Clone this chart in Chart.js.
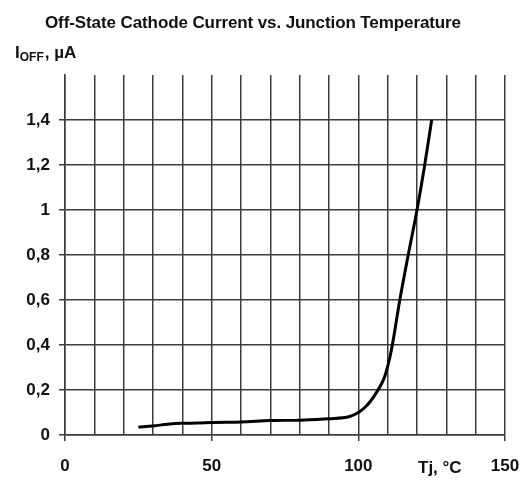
<!DOCTYPE html>
<html>
<head>
<meta charset="utf-8">
<script src="https://cdn.jsdelivr.net/npm/chart.js@4/dist/chart.umd.min.js"></script>
<style>
  body { margin: 0; background: #fff; }
  #wrap { position: relative; width: 523px; height: 486px; }
  .lbl { position: absolute; font-family: Arial, "Liberation Sans", sans-serif; font-weight: bold; color: #111; white-space: nowrap; }
  #title { left: 45px; top: 13px; font-size: 17px; letter-spacing: -0.1px; }
  #ylab { left: 15px; top: 43px; font-size: 17px; }
  #ylab sub { font-size: 12px; vertical-align: -3px; margin-right: 1px; }
  #xlab { left: 418px; top: 458px; font-size: 17px; }
</style>
</head>
<body>
<div id="wrap">
  <canvas id="chart" width="523" height="486"></canvas>
  <div class="lbl" id="title">Off-State Cathode Current vs. Junction Temperature</div>
  <div class="lbl" id="ylab">I<sub>OFF</sub>, µA</div>
  <div class="lbl" id="xlab">Tj, °C</div>
</div>
<script>
// junction temperature, °C
const tempC = [25, 30, 35, 40, 45, 50, 60, 70, 80, 90, 97, 100, 102, 104, 106, 108, 109, 110, 111, 112, 113, 114, 117, 120, 122.5, 125];
// off-state cathode current, µA
const ioffUA = [0.035, 0.04, 0.048, 0.052, 0.053, 0.056, 0.058, 0.064, 0.066, 0.072, 0.082, 0.1, 0.12, 0.148, 0.185, 0.23, 0.26, 0.305, 0.36, 0.43, 0.51, 0.59, 0.8, 1.0, 1.19, 1.4];

const xLabelTicks = [0, 50, 100, 150];

const gridCol = "#3c3c3c";
const tickFont = { family: "Arial, 'Liberation Sans', sans-serif", size: 17, weight: "bold" };

const points = tempC.map((t, i) => ({ x: t, y: ioffUA[i] }));

new Chart(document.getElementById("chart"), {
  type: "line",
  data: {
    datasets: [{
      data: points,
      borderColor: "#000",
      borderWidth: 3,
      pointRadius: 0,
      cubicInterpolationMode: "monotone",
      fill: false,
    }],
  },
  options: {
    responsive: false,
    animation: false,
    layout: { padding: { top: 75, right: 18, left: 0, bottom: 0 } },
    plugins: { legend: { display: false }, title: { display: false }, tooltip: { enabled: false } },
    scales: {
      x: {
        type: "linear",
        min: 0,
        max: 150,
        afterFit: (s) => { s.height = 51; s.paddingLeft = 0; s.paddingRight = 0; },
        border: { display: true, color: gridCol, width: 1.5 },
        grid: {
          color: gridCol,
          lineWidth: 1.5,
          tickLength: 6,
          tickColor: (c) => xLabelTicks.includes(c.tick && c.tick.value) ? gridCol : "rgba(0,0,0,0)",
        },
        ticks: {
          stepSize: 10,
          autoSkip: false,
          maxRotation: 0,
          padding: 15,
          color: "#111",
          font: tickFont,
          callback: (v) => xLabelTicks.includes(v) ? String(v) : "",
        },
      },
      y: {
        min: 0,
        max: 1.6,
        afterFit: (s) => { s.width = 65; s.paddingTop = 0; s.paddingBottom = 0; },
        border: { display: true, color: gridCol, width: 1.5 },
        grid: {
          color: (c) => (c.tick && c.tick.value > 1.55) ? "rgba(0,0,0,0)" : gridCol,
          lineWidth: 1.5,
          tickLength: 6,
        },
        ticks: {
          stepSize: 0.2,
          padding: 9,
          color: "#111",
          font: tickFont,
          callback: (v) => v > 1.55 ? "" : String(Math.round(v * 10) / 10).replace(".", ","),
        },
      },
    },
  },
});
</script>
</body>
</html>
